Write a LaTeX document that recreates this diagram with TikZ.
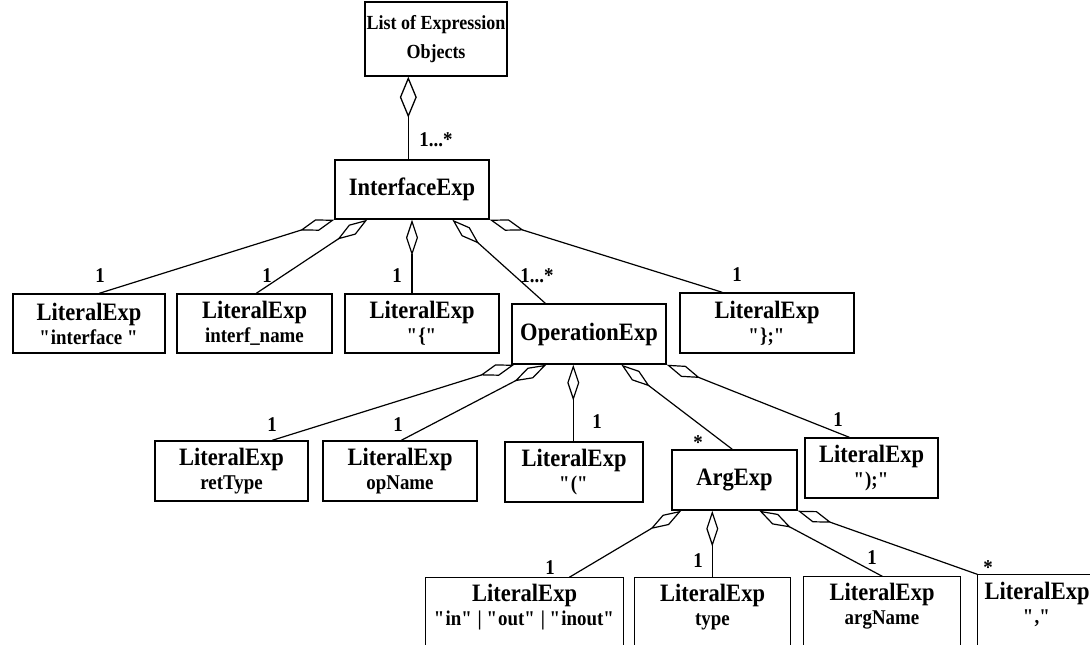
\documentclass[tikz,border=0pt]{standalone}
\usepackage{fontspec}
\setmainfont{Liberation Serif}[FakeStretch=0.9]
\usetikzlibrary{arrows.meta,calc}

% 1 unit = 1pt, y grows downwards
\tikzset{
  cls/.style={draw, line width=1.4pt, inner sep=0pt, align=center,
    font=\bfseries\fontsize{25}{24}\selectfont},
  txt/.style={cls, draw=none},
  agg/.style={line width=1.2pt,
    {Diamond[open, length=36pt, width=12pt, line width=1.2pt]}-},
  aggbig/.style={line width=1.3pt,
    {Diamond[open, length=41pt, width=17pt, line width=1.3pt]}-},
  mult/.style={inner sep=0pt, font=\bfseries\fontsize{21}{21}\selectfont},
  openbox/.style={line width=1.4pt},
}
\newcommand\valline[1]{\\\fontsize{21}{24}\selectfont #1}
\newcommand\q{\textquotedbl}

\begin{document}
\begin{tikzpicture}[x=1pt, y=-1pt]
\clip (0,0) rectangle (1090,645);

% ---- classes ----
\node[cls, minimum width=142pt, minimum height=74pt,
      font=\bfseries\fontsize{20}{29}\selectfont] (top) at (436,39)
      {List of Expression\\Objects};
\node[cls, minimum width=154pt, minimum height=59pt] (ie) at (412,189.5) {InterfaceExp};

\node[cls, minimum width=152pt, minimum height=59pt] (a) at (89,323.5)
      {LiteralExp\valline{\q interface \q}};
\node[cls, minimum width=155pt, minimum height=59pt] (b) at (254.5,323.5)
      {LiteralExp\valline{interf\_name}};
\node[cls, minimum width=154pt, minimum height=59pt] (c) at (422,323.5)
      {LiteralExp\valline{\q\{\q}};
\node[cls, minimum width=154pt, minimum height=60pt] (op) at (589,334) {OperationExp};
\node[cls, minimum width=174pt, minimum height=60pt] (d) at (767,323)
      {LiteralExp\valline{\q\};\q}};

\node[cls, minimum width=153pt, minimum height=60pt] (e) at (231.5,471)
      {LiteralExp\valline{retType}};
\node[cls, minimum width=154pt, minimum height=60pt] (f) at (400,471)
      {LiteralExp\valline{opName}};
\node[cls, minimum width=138pt, minimum height=60pt] (g) at (574,472)
      {LiteralExp\valline{\q(\q}};
\node[cls, minimum width=125pt, minimum height=60pt] (arg) at (734.5,480) {ArgExp};
\node[cls, minimum width=133pt, minimum height=60pt] (h) at (871.5,468)
      {LiteralExp\valline{\q);\q}};

% bottom row: boxes run past the lower edge
\node[txt, minimum width=197pt, minimum height=58pt] (i) at (524.5,607)
      {LiteralExp\valline{\q in\q{} | \q out\q{} | \q inout\q}};
\node[txt, minimum width=155pt, minimum height=58pt] (j) at (712.5,607)
      {LiteralExp\valline{type}};
\node[txt, minimum width=156pt, minimum height=58pt] (k) at (882,606)
      {LiteralExp\valline{argName}};
\node[txt, minimum width=118pt, minimum height=58pt] (l) at (1037,604)
      {LiteralExp\valline{\q,\q}};
\foreach \n in {i,j,k,l}
  \draw[openbox] (\n.north west) rectangle ($(\n.south east)+(0,40)$);

% ---- aggregations ----
\coordinate (t0) at ($(top.south west)+(44,0)$);
\draw[aggbig] (t0) -- (t0 |- ie.north);

\draw[agg] (ie.south west) -- ($(a.north west)+(87,0)$);
\draw[agg] ($(ie.south west)+(33,0)$) -- ($(b.north west)+(80,0)$);
\draw[agg] (ie.south) -- (ie.south |- c.north);
\draw[agg] ($(ie.south west)+(118,0)$) -- ($(op.north west)+(34,0)$);
\draw[agg] (ie.south east) -- ($(d.north west)+(43,0)$);

\coordinate (o3) at ($(op.south west)+(62,0)$);
\draw[agg] ($(op.south west)+(3,0)$) -- ($(e.north west)+(118,0)$);
\draw[agg] ($(op.south west)+(35,0)$) -- ($(f.north west)+(79,0)$);
\draw[agg] (o3) -- (o3 |- g.north);
\draw[agg] ($(op.south west)+(110,0)$) -- ($(arg.north west)+(61,0)$);
\draw[agg] (op.south east) -- ($(h.north west)+(45,0)$);

\coordinate (a2) at ($(arg.south west)+(41,0)$);
\draw[agg] ($(arg.south west)+(10,0)$) -- ($(i.north west)+(144,0)$);
\draw[agg] (a2) -- (a2 |- j.north);
\draw[agg] ($(arg.south west)+(88,0)$) -- ($(k.north west)+(79,0)$);
\draw[agg] (arg.south east) -- (l.north west);

% ---- multiplicities ----
\node[mult] (m0) at (436,140) {1...*};
\node[mult] (m1) at (100,276) {1};
\node[mult] (m2) at (267,276) {1};
\node[mult] (m3) at (397,276) {1};
\node[mult] (m4) at (537,276) {1...*};
\node[mult] (m5) at (737,275) {1};
\node[mult] (m6) at (272,425) {1};
\node[mult] (m7) at (398,425) {1};
\node[mult] (m8) at (597,422) {1};
\node[mult] (m9) at (698,443) {*};
\node[mult] (m10) at (838,420) {1};
\node[mult] (m11) at (550,568) {1};
\node[mult] (m12) at (698,561) {1};
\node[mult] (m13) at (872,558) {1};
\node[mult] (m14) at (988,568) {*};
\end{tikzpicture}
\end{document}
